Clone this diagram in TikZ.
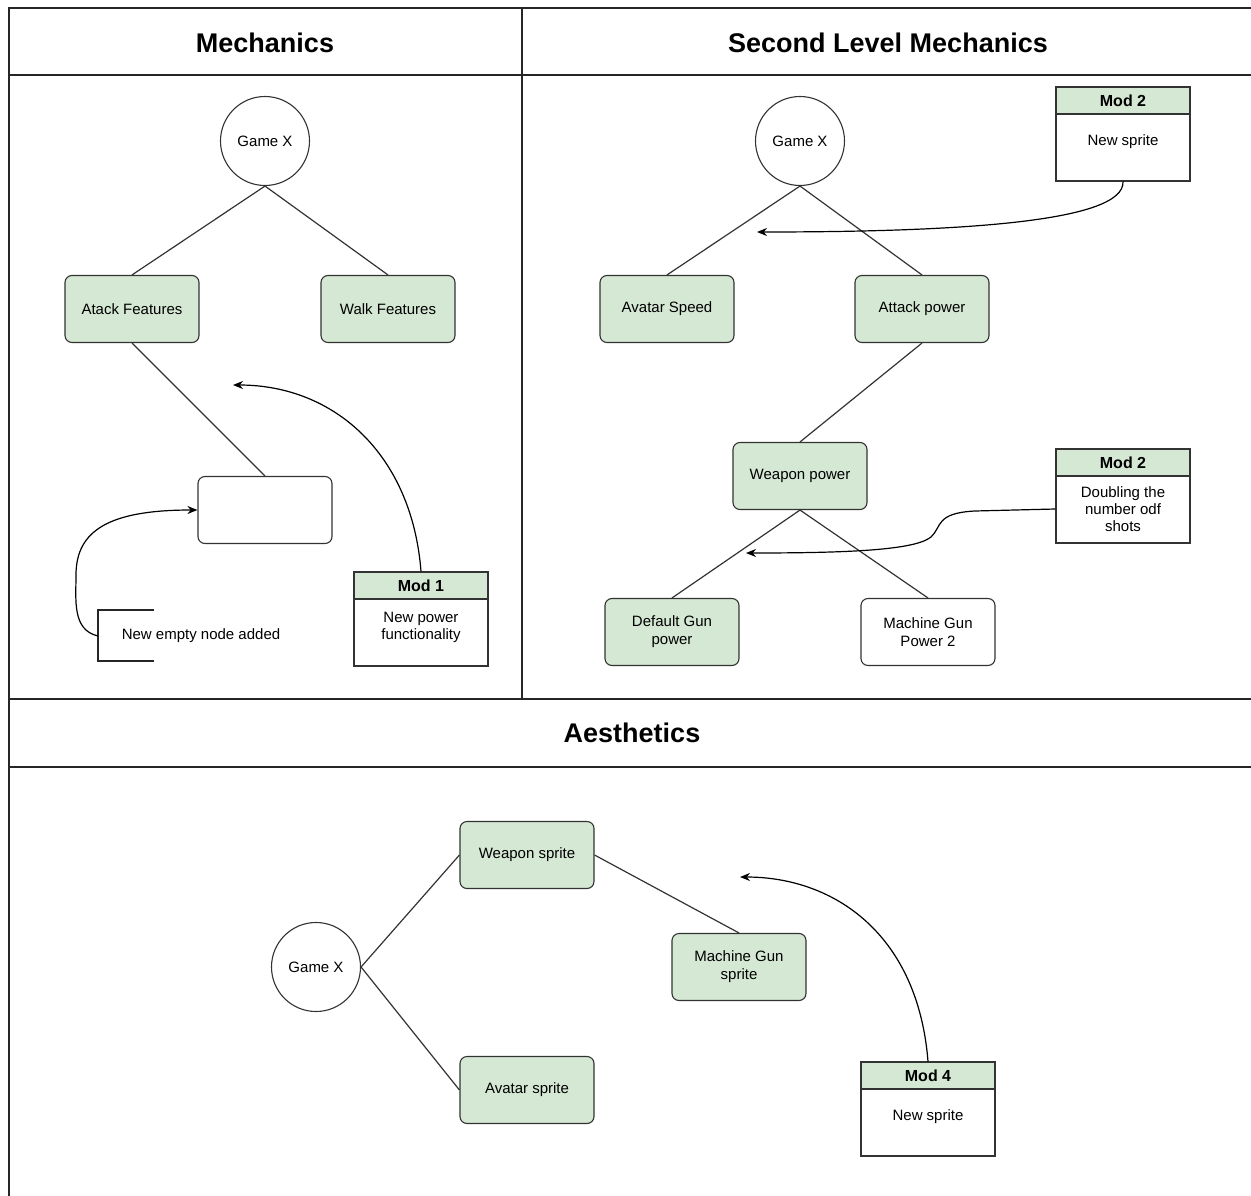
\documentclass[tikz,border=0pt]{standalone}
\usepackage{fontspec}
\setmainfont{Liberation Sans}
\usetikzlibrary{arrows.meta}
\definecolor{gfill}{HTML}{D5E8D4}
\definecolor{edge}{HTML}{333333}
\begin{document}
\begin{tikzpicture}[x=1pt,y=-1pt,
  frame/.style={line width=1.4pt, draw=black!85},
  title/.style={font=\bfseries\fontsize{27}{32}\selectfont},
  box/.style={draw=edge, line width=1.1pt, rounded corners=7pt, minimum width=134pt, minimum height=67pt, align=center, font=\fontsize{15}{18}\selectfont},
  gbox/.style={box, fill=gfill},
  wbox/.style={box, fill=white},
  gcirc/.style={draw=edge, line width=1.1pt, circle, minimum size=89pt, inner sep=0pt, font=\fontsize{15}{18}\selectfont},
  modbody/.style={draw=edge, line width=1.1pt, fill=white, minimum width=134pt, minimum height=94pt, inner sep=0pt},
  modhead/.style={draw=edge, line width=1.1pt, fill=gfill, minimum width=134pt, minimum height=27pt, inner sep=0pt, font=\bfseries\fontsize{16}{19}\selectfont},
  modtext/.style={align=center, font=\fontsize{15}{17}\selectfont},
  link/.style={draw=edge, line width=1.2pt},
  arr/.style={draw=black, line width=1.2pt, -{Stealth[length=10pt,width=8pt]}}
]
\useasboundingbox (0,0) rectangle (1251,1196);
% frame
\draw[frame] (9,1196) -- (9,8) -- (1251,8);
\draw[frame] (9,75) -- (1251,75);
\draw[frame] (522,8) -- (522,699);
\draw[frame] (9,699) -- (1251,699);
\draw[frame] (9,767) -- (1251,767);
\node[title] (t1) at (265,43) {Mechanics};
\node[title] (t2) at (888,43) {Second Level Mechanics};
\node[title] (t3) at (632,733) {Aesthetics};

% ---- Mechanics
\node[gcirc] (g1) at (265,141) {Game X};
\node[gbox] (atk) at (132,309) {Atack Features};
\node[gbox] (walk) at (388,309) {Walk Features};
\node[wbox] (empty) at (265,510) {};
\draw[link] (g1.south) -- (atk.north);
\draw[link] (g1.south) -- (walk.north);
\draw[link] (atk.south) -- (empty.north);
\node[modbody] (m1) at (421,619) {};
\node[modhead, anchor=north] (m1h) at (m1.north) {Mod 1};
\node[modtext] (m1t) at (421,627) {New power\\functionality};
\coordinate (a1) at (233,385);
\draw[arr] (m1.north) .. controls (412,455) and (335,385) .. (a1);
\draw[line width=2pt, draw=black!85] (154,610) -- (98,610) -- (98,661) -- (154,661);
\coordinate (br) at (98,636);
\node[font=\fontsize{15}{18}\selectfont] (note) at (201,636) {New empty node added};
\draw[arr] (br) .. controls (72,630) and (76,600) .. (76,575) .. controls (76,530) and (110,510) .. (empty.west);

% ---- Second level mechanics
\node[gcirc] (g2) at (800,141) {Game X};
\node[gbox] (spd) at (667,309) {Avatar Speed};
\node[gbox] (atp) at (922,309) {Attack power};
\node[gbox] (wpn) at (800,476) {Weapon power};
\node[gbox] (dgp) at (672,632) {Default Gun\\power};
\node[wbox] (mgp) at (928,632) {Machine Gun\\Power 2};
\draw[link] (g2.south) -- (spd.north);
\draw[link] (g2.south) -- (atp.north);
\draw[link] (atp.south) -- (wpn.north);
\draw[link] (wpn.south) -- (dgp.north);
\draw[link] (wpn.south) -- (mgp.north);
\node[modbody] (m2) at (1123,134) {};
\node[modhead, anchor=north] (m2h) at (m2.north) {Mod 2};
\node[modtext] (m2t) at (1123,142) {New sprite};
\coordinate (a2) at (757,232);
\draw[arr] (m2.south) .. controls (1125,222) and (960,232) .. (a2);
\node[modbody] (m3) at (1123,496) {};
\node[modhead, anchor=north] (m3h) at (m3.north) {Mod 2};
\node[modtext] (m3t) at (1123,509) {Doubling the\\number odf\\shots};
\coordinate (a3) at (746,553);
\draw[arr] (m3.west |- m3t.center) -- (975,511) .. controls (935,513) and (942,527) .. (931,537) .. controls (915,550) and (850,553) .. (a3);

% ---- Aesthetics
\node[gcirc] (g3) at (316,967) {Game X};
\node[gbox] (wsp) at (527,855) {Weapon sprite};
\node[gbox] (asp) at (527,1090) {Avatar sprite};
\node[gbox] (msp) at (739,967) {Machine Gun\\sprite};
\draw[link] (g3.east) -- (wsp.west);
\draw[link] (g3.east) -- (asp.west);
\draw[link] (wsp.east) -- (msp.north);
\node[modbody] (m4) at (928,1109) {};
\node[modhead, anchor=north] (m4h) at (m4.north) {Mod 4};
\node[modtext] (m4t) at (928,1117) {New sprite};
\coordinate (a4) at (740,877);
\draw[arr] (m4.north) .. controls (918,935) and (835,877) .. (a4);
\end{tikzpicture}
\end{document}
